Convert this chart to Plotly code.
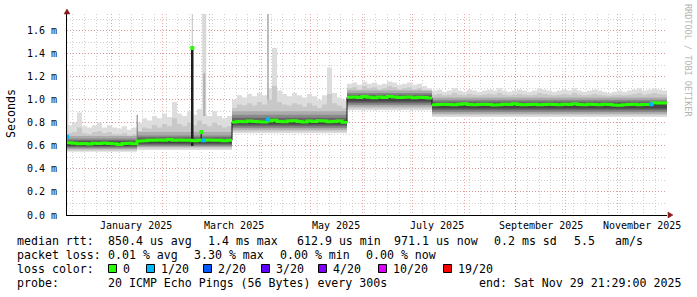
import numpy as np
import pandas as pd
import plotly.graph_objects as go

# ---------------- data ----------------
range_start = "2024-12-05 10:00"
range_end = "2025-11-30 21:30"

# number of 3-day bins in each plateau of the median
seg_len = [14, 19, 23, 17, 47]

median_ms = [
    0.628, 0.622, 0.618, 0.620, 0.616, 0.622, 0.620, 0.624, 0.620, 0.618, 0.612, 0.620, 0.622, 0.618,
    0.643, 0.645, 0.650, 0.648, 0.652, 0.650, 0.655, 0.650, 0.652, 0.648, 0.650, 0.645, 0.650, 0.648,
    0.652, 0.648, 0.650, 0.645, 0.648,
    0.808, 0.812, 0.810, 0.815, 0.812, 0.810, 0.808, 0.815, 0.822, 0.812, 0.810, 0.815, 0.818, 0.812,
    0.808, 0.815, 0.812, 0.818, 0.815, 0.810, 0.812, 0.815, 0.805,
    1.022, 1.025, 1.020, 1.028, 1.022, 1.018, 1.025, 1.020, 1.028, 1.025, 1.020, 1.022, 1.025, 1.018,
    1.022, 1.020, 1.015,
    0.958, 0.960, 0.962, 0.960, 0.958, 0.962, 0.965, 0.960, 0.958, 0.960,
    0.962, 0.960, 0.955, 0.958, 0.962, 0.960, 0.965, 0.960, 0.958, 0.960,
    0.962, 0.958, 0.960, 0.962, 0.960, 0.958, 0.962, 0.960, 0.965, 0.960,
    0.958, 0.962, 0.960, 0.958, 0.962, 0.960, 0.955, 0.952, 0.958, 0.960,
    0.962, 0.958, 0.960, 0.960, 0.975, 0.972, 0.972,
]

# highest ping of each bin (outer light smoke)
smoke_top_ms = [
    0.78, 0.80, 0.89, 0.77, 0.76, 0.78, 0.80, 0.76, 0.78, 0.76, 0.75, 0.77, 0.74, 0.76,
    0.80, 0.84, 0.82, 0.86, 0.84, 0.88, 0.85, 0.98, 0.88, 0.86, 0.90, 0.87, 0.92, 0.88,
    0.86, 0.90, 0.86, 0.84, 0.86,
    1.00, 1.04, 1.02, 1.05, 1.03, 1.06, 1.04, 1.10, 1.45, 1.08, 1.05, 1.03, 1.06, 1.04,
    1.02, 1.05, 1.03, 1.00, 1.04, 1.28, 1.06, 1.02, 1.00,
    1.14, 1.15, 1.13, 1.16, 1.14, 1.15, 1.13, 1.14, 1.16, 1.15, 1.13, 1.14, 1.15, 1.13,
    1.14, 1.12, 1.10,
    1.08, 1.09, 1.07, 1.08, 1.10, 1.08, 1.07, 1.09, 1.08, 1.07,
    1.08, 1.09, 1.08, 1.10, 1.08, 1.07, 1.08, 1.09, 1.08, 1.07,
    1.08, 1.10, 1.09, 1.08, 1.07, 1.08, 1.09, 1.08, 1.10, 1.08,
    1.07, 1.08, 1.09, 1.08, 1.07, 1.06, 1.07, 1.08, 1.07, 1.08,
    1.09, 1.10, 1.08, 1.09, 1.10, 1.09, 1.08,
]

# second highest smoke layer, per bin
smoke_high2_ms = [
    0.71, 0.72, 0.76, 0.71, 0.70, 0.72, 0.73, 0.71, 0.72, 0.70, 0.70, 0.71, 0.69, 0.70,
    0.73, 0.76, 0.75, 0.78, 0.76, 0.79, 0.77, 0.84, 0.79, 0.77, 0.80, 0.78, 0.82, 0.79,
    0.77, 0.80, 0.78, 0.76, 0.77,
    0.93, 0.96, 0.95, 0.97, 0.95, 0.98, 0.96, 1.00, 1.12, 0.98, 0.96, 0.95, 0.97, 0.96,
    0.94, 0.97, 0.95, 0.93, 0.96, 1.05, 0.97, 0.95, 0.93,
    1.10, 1.11, 1.09, 1.12, 1.10, 1.11, 1.09, 1.10, 1.12, 1.11, 1.09, 1.10, 1.11, 1.09,
    1.10, 1.08, 1.07,
    1.045, 1.05, 1.04, 1.045, 1.06, 1.045, 1.04, 1.05, 1.045, 1.04,
    1.045, 1.05, 1.045, 1.06, 1.045, 1.04, 1.045, 1.05, 1.045, 1.04,
    1.045, 1.06, 1.05, 1.045, 1.04, 1.045, 1.05, 1.045, 1.06, 1.045,
    1.04, 1.045, 1.05, 1.045, 1.04, 1.035, 1.04, 1.045, 1.04, 1.045,
    1.05, 1.06, 1.045, 1.05, 1.06, 1.05, 1.045,
]

# inner smoke layer limits per plateau (ms), outermost first
smoke_low_ms = [
    [0.55, 0.565, 0.71, 0.91, 0.85],
    [0.56, 0.58, 0.725, 0.925, 0.865],
    [0.57, 0.59, 0.74, 0.94, 0.88],
    [0.58, 0.60, 0.755, 0.955, 0.895],
    [0.59, 0.61, 0.77, 0.97, 0.91],
    [0.60, 0.62, 0.785, 0.985, 0.925],
]
smoke_high_ms = [
    None,
    None,
    [0.685, 0.72, 0.90, 1.08, 1.02],
    [0.665, 0.69, 0.87, 1.06, 1.00],
    [0.65, 0.675, 0.845, 1.045, 0.985],
    [0.638, 0.66, 0.825, 1.032, 0.972],
]

# short-lived spikes
spike_dates = ["2024-12-05 20:00", "2025-02-25 21:00", "2025-02-25 21:00", "2025-04-05 04:00",
               "2025-01-16 14:00", "2025-02-18 16:00", "2025-02-18 16:00", "2025-02-24 02:00"]
spike_lo = [0.70, 0.86, 0.86, 1.00, 0.66, 1.40, 0.60, 0.64]
spike_hi = [1.26, 1.745, 1.23, 1.745, 0.87, 1.745, 1.45, 0.725]
spike_median_dates = ["2025-02-18 16:00", "2025-02-24 02:00"]
spike_median_ms = [1.45, 0.72]

# bins with packet loss (loss level in pings out of 20)
loss_dates = ["2024-12-05 12:00", "2025-02-25 08:00", "2025-04-05 04:00", "2025-11-21 06:00"]
loss_ms = [0.68, 0.648, 0.83, 0.962]
loss_level = [1, 1, 1, 1]

month_starts = ["2025-01-01", "2025-02-01", "2025-03-01", "2025-04-01", "2025-05-01", "2025-06-01",
                "2025-07-01", "2025-08-01", "2025-09-01", "2025-10-01", "2025-11-01"]
label_months = ["2025-01-01", "2025-03-01", "2025-05-01", "2025-07-01", "2025-09-01", "2025-11-01"]
label_text = ["January 2025", "March 2025", "May 2025", "July 2025", "September 2025", "November 2025"]
y_ticks = [0.0, 0.2, 0.4, 0.6, 0.8, 1.0, 1.2, 1.4, 1.6]
y_ticktext = ["0.0 m", "0.2 m", "0.4 m", "0.6 m", "0.8 m", "1.0 m", "1.2 m", "1.4 m", "1.6 m"]

loss_legend_levels = ["0", "1/20", "2/20", "3/20", "4/20", "10/20", "19/20"]
loss_legend_colors = ["#26ff00", "#00b8ff", "#0059ff", "#5e00ff", "#7e00ff", "#dd00ff", "#ff0000"]

rtt_stats = ["850.4 us avg", "1.4 ms max", "612.9 us min", "971.1 us now", "0.2 ms sd", "5.5", "am/s"]
loss_stats = ["0.01 % avg", "3.30 % max", "0.00 % min", "0.00 % now"]
probe_text = "20 ICMP Echo Pings (56 Bytes) every 300s"
end_text = "end: Sat Nov 29 21:29:00 2025"

# ---------------- styling ----------------
W, H = 697, 297
L, R, T, B = 67, 30, 14, 82
PW, PH = W - L - R, H - T - B
MONO = "DejaVu Sans Mono"
GREEN = loss_legend_colors[0]
SMOKE_COLORS = ["#dddddd", "#c8c8c8", "#ababab", "#8a8a8a", "#686868", "#464646"]


def fx(px):
    return (px - L) / PW


def fy(py):
    return (H - B - py) / PH


def nb(s):
    return s.replace(" ", "\u00a0")


n = len(median_ms)
edges = list(pd.date_range(range_start, range_end, periods=n + 1))


def expand(vals):
    return list(np.repeat(vals, seg_len))


def step(vals):
    v = list(vals)
    return v + [v[-1]]


fig = go.Figure()

highs = [smoke_top_ms, smoke_high2_ms] + [expand(h) for h in smoke_high_ms[2:]]
lows = [expand(lo) for lo in smoke_low_ms]
for lo, hi, col in zip(lows, highs, SMOKE_COLORS):
    fig.add_trace(go.Scatter(x=edges, y=step(lo), mode="lines", line=dict(width=0, shape="hv"),
                             hoverinfo="skip", showlegend=False))
    fig.add_trace(go.Scatter(x=edges, y=step(hi), mode="lines", line=dict(width=0, shape="hv"),
                             fill="tonexty", fillcolor=col, hoverinfo="skip", showlegend=False))

spike_colors = ["#d2d2d2", "#d8d8d8", "#b0b0b0", "#a8a8a8", "#777777", "#bdbdbd", "#1e1e1e", "#333333"]
spike_widths = [1.5, 4, 2, 1.5, 1, 1, 2.5, 1.5]
for d, lo, hi, c, w in zip(spike_dates, spike_lo, spike_hi, spike_colors, spike_widths):
    fig.add_trace(go.Scatter(x=[d, d], y=[lo, hi], mode="lines", line=dict(color=c, width=w),
                             hoverinfo="skip", showlegend=False))

# median: thin black steps + green plateaus
fig.add_trace(go.Scatter(x=edges, y=step(median_ms), mode="lines",
                         line=dict(color="#111111", width=1, shape="hv"), hoverinfo="skip", showlegend=False))
gx, gy = [], []
for i in range(n):
    if i > 0 and abs(median_ms[i] - median_ms[i - 1]) > 0.05:
        gx += [edges[i], None]
        gy += [median_ms[i - 1], None]
    gx.append(edges[i])
    gy.append(median_ms[i])
gx.append(edges[n])
gy.append(median_ms[-1])
fig.add_trace(go.Scatter(x=gx, y=gy, mode="lines", line=dict(color=GREEN, width=3, shape="hv"),
                         connectgaps=False, hoverinfo="skip", showlegend=False))
fig.add_trace(go.Scatter(x=spike_median_dates, y=spike_median_ms, mode="markers",
                         marker=dict(symbol="square", size=4, color=GREEN, line=dict(width=0)),
                         hoverinfo="skip", showlegend=False))
fig.add_trace(go.Scatter(x=loss_dates, y=loss_ms, mode="markers",
                         marker=dict(symbol="square", size=4,
                                     color=[loss_legend_colors[k] for k in loss_level], line=dict(width=0)),
                         hoverinfo="skip", showlegend=False))

weeks = list(pd.date_range("2024-12-09", range_end, freq="7D"))
RED_GRID = "rgba(225,120,120,0.65)"
GRAY_GRID = "#d0d0d0"

fig.update_layout(
    width=W, height=H, margin=dict(l=L, r=R, t=T, b=B, pad=0),
    paper_bgcolor="white", plot_bgcolor="white", showlegend=False,
    font=dict(family=MONO, size=10, color="black"),
    xaxis=dict(type="date", range=[range_start, range_end], tickvals=month_starts, showticklabels=False,
               ticks="", showgrid=True, gridcolor=RED_GRID, griddash="1px,2px", gridwidth=1,
               minor=dict(tickvals=weeks, showgrid=True, gridcolor=GRAY_GRID, griddash="1px,2px", ticks=""),
               showline=True, linecolor="black", linewidth=1, zeroline=False, fixedrange=True),
    yaxis=dict(range=[0, 1.745], tickvals=y_ticks, ticktext=y_ticktext, ticks="", ticklabelstandoff=7,
               showgrid=True, gridcolor=RED_GRID, griddash="1px,2px", gridwidth=1,
               minor=dict(dtick=0.1, tick0=0, showgrid=True, gridcolor=GRAY_GRID, griddash="1px,2px", ticks=""),
               showline=True, linecolor="black", linewidth=1, zeroline=False, fixedrange=True,
               tickfont=dict(family=MONO, size=10)),
)

ann = []
for d, t in zip(label_months, label_text):
    ann.append(dict(x=pd.Timestamp(d) + pd.Timedelta(days=15), xref="x", y=0, yref="paper",
                    yanchor="top", xanchor="center", yshift=-3, text=nb(t), showarrow=False,
                    font=dict(family=MONO, size=10)))

ann.append(dict(x=fx(11), y=fy(114), xref="paper", yref="paper", xanchor="center", yanchor="middle",
                text="Seconds", textangle=-90, showarrow=False, font=dict(family=MONO, size=11.6)))
ann.append(dict(x=fx(688), y=fy(60), xref="paper", yref="paper", xanchor="center", yanchor="middle",
                text=nb("RRDTOOL / TOBI OETIKER"), textangle=90, showarrow=False,
                font=dict(family=MONO, size=8.5, color="#b4b4b4")))


def legend_text(xp, yp, text):
    ann.append(dict(x=fx(xp), y=fy(yp), xref="paper", yref="paper", xanchor="left", yanchor="middle",
                    text=nb(text), showarrow=False, borderpad=0, font=dict(family=MONO, size=11.6)))


row_y = [241, 255, 268.5, 282.5]
legend_text(16, row_y[0], "median rtt:")
for xp, t in zip([107, 207, 296, 393, 493, 573, 614], rtt_stats):
    legend_text(xp, row_y[0], t)
legend_text(16, row_y[1], "packet loss:")
for xp, t in zip([107, 193, 279, 365], loss_stats):
    legend_text(xp, row_y[1], t)
legend_text(16, row_y[2], "loss color:")
shapes = []
for xp, t, c in zip([122, 160, 217, 275, 332, 392, 457], loss_legend_levels, loss_legend_colors):
    legend_text(xp, row_y[2], t)
    shapes.append(dict(type="rect", xref="paper", yref="paper", x0=fx(xp - 13.5), x1=fx(xp - 5.5),
                       y0=fy(row_y[2] - 4), y1=fy(row_y[2] + 4), fillcolor=c,
                       line=dict(color="black", width=1)))
legend_text(16, row_y[3], "probe:")
legend_text(107, row_y[3], probe_text)
legend_text(478, row_y[3], end_text)

ARROW = "#8b1a1a"
shapes.append(dict(type="path", xref="paper", yref="paper",
                   path=f"M{fx(64)},{fy(14)} L{fx(67)},{fy(9)} L{fx(70)},{fy(14)} Z",
                   fillcolor=ARROW, line=dict(color=ARROW, width=0.5)))
shapes.append(dict(type="path", xref="paper", yref="paper",
                   path=f"M{fx(668)},{fy(212)} L{fx(673)},{fy(215)} L{fx(668)},{fy(218)} Z",
                   fillcolor=ARROW, line=dict(color=ARROW, width=0.5)))

fig.update_layout(annotations=ann, shapes=shapes)
fig.write_html("out.html")
